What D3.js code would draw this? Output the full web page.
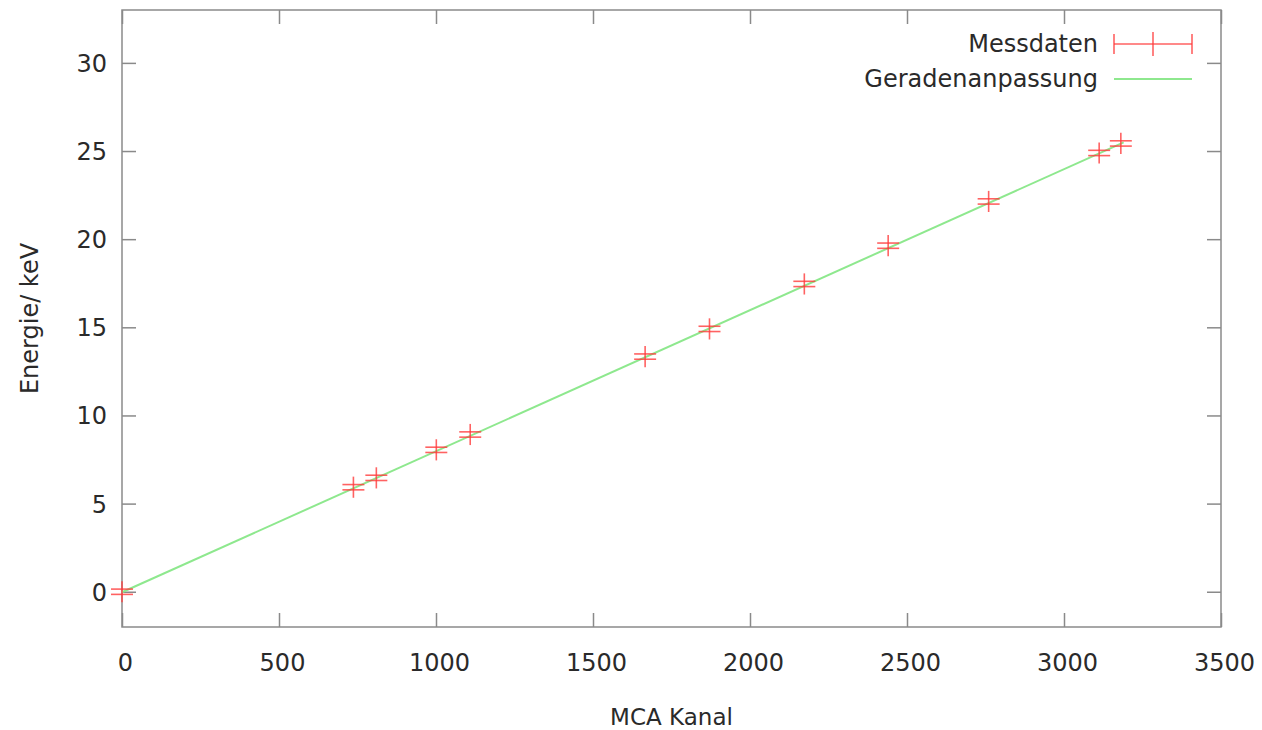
<!DOCTYPE html>
<html>
<head>
<meta charset="utf-8">
<script src="https://cdn.jsdelivr.net/npm/d3@7"></script>
<style>
  html, body { margin: 0; padding: 0; background: #fff; }
  svg { display: block; font-family: "DejaVu Sans", Verdana, sans-serif; }
</style>
</head>
<body>
<svg id="chart" width="1262" height="730"></svg>
<script>
// ---- data ----
const channels = [0, 737, 810, 1001, 1109, 1666, 1871, 2173, 2440, 2760, 3112, 3181];
const energies = [0, 5.93, 6.46, 8.05, 8.92, 13.34, 14.91, 17.46, 19.63, 22.14, 24.89, 25.43];
const xErr = [35, 35, 35, 35, 35, 35, 35, 35, 35, 35, 35, 35];
const yErrInner = [0.15, 0.15, 0.15, 0.15, 0.15, 0.15, 0.15, 0.15, 0.15, 0.15, 0.15, 0.15];
const yErrOuter = [0.6, 0.6, 0.6, 0.6, 0.6, 0.6, 0.6, 0.6, 0.6, 0.6, 0.6, 0.6];
const fitSlope = 0.008;
const fitIntercept = -0.03;
const fitRange = [0, 3190];
const xTicks = [0, 500, 1000, 1500, 2000, 2500, 3000, 3500];
const yTicks = [0, 5, 10, 15, 20, 25, 30];
const xLabel = "MCA Kanal";
const yLabel = "Energie/ keV";
const legendLabels = ["Messdaten", "Geradenanpassung"];

// ---- layout ----
const W = 1262, H = 730;
const m = { left: 122, right: 41, top: 10, bottom: 103 };
const svg = d3.select("#chart");
const x = d3.scaleLinear().domain([0, 3500]).range([m.left, W - m.right]);
const y = d3.scaleLinear().domain([-2, 33]).range([H - m.bottom, m.top]);
const frameColor = "#8a8a8a";
const textColor = "#2a2a2a";
const red = "#ff3b3b";
const green = "#8ee88e";
const tickLen = 14;

const gx = svg.append("g").attr("transform", `translate(0,${y.range()[0]})`)
  .call(d3.axisBottom(x).tickValues(xTicks).tickSize(-tickLen).tickPadding(27).tickFormat(d3.format("d")));
const gxTop = svg.append("g").attr("transform", `translate(0,${y.range()[1]})`)
  .call(d3.axisTop(x).tickValues(xTicks).tickSize(-tickLen).tickFormat(""));
const gy = svg.append("g").attr("transform", `translate(${x.range()[0]},0)`)
  .call(d3.axisLeft(y).tickValues(yTicks).tickSize(-tickLen).tickPadding(15).tickFormat(d3.format("d")));
const gyR = svg.append("g").attr("transform", `translate(${x.range()[1]},0)`)
  .call(d3.axisRight(y).tickValues(yTicks).tickSize(-tickLen).tickFormat(""));
[gx, gxTop, gy, gyR].forEach(g => {
  g.select(".domain").remove();
  g.selectAll(".tick line").attr("stroke", frameColor).attr("stroke-width", 1.5);
  g.selectAll(".tick text").attr("fill", textColor).attr("font-size", 24)
   .attr("font-family", "DejaVu Sans, Verdana, sans-serif");
});
gy.selectAll(".tick text").attr("dy", "0.35em");
gx.selectAll(".tick text").attr("dx", 3);

svg.append("rect")
  .attr("x", x.range()[0]).attr("y", y.range()[1])
  .attr("width", x.range()[1] - x.range()[0]).attr("height", y.range()[0] - y.range()[1])
  .attr("fill", "none").attr("stroke", frameColor).attr("stroke-width", 1.5);

const line = d3.line().x(d => x(d)).y(d => y(fitSlope * d + fitIntercept));
svg.append("path").datum(fitRange).attr("d", line)
  .attr("fill", "none").attr("stroke", green).attr("stroke-width", 2);

const pts = channels.map((c, i) => ({ c, e: energies[i], dx: xErr[i], di: yErrInner[i], dout: yErrOuter[i] }));
const g = svg.append("g").attr("stroke", red).attr("stroke-width", 1.6).attr("stroke-opacity", 0.8);
pts.forEach(p => {
  g.append("line").attr("x1", x(p.c)).attr("x2", x(p.c)).attr("y1", y(p.e - p.dout)).attr("y2", y(p.e + p.dout));
  [p.e - p.di, p.e + p.di].forEach(v => {
    g.append("line").attr("x1", x(p.c - p.dx)).attr("x2", x(p.c + p.dx)).attr("y1", y(v)).attr("y2", y(v));
  });
});

svg.append("text").attr("x", (x.range()[0] + x.range()[1]) / 2).attr("y", 717)
  .attr("dy", "0.35em")
  .attr("text-anchor", "middle").attr("font-size", 23).attr("fill", textColor).text(xLabel);
svg.append("text").attr("transform", `translate(38,${(y.range()[0] + y.range()[1]) / 2}) rotate(-90)`)
  .attr("text-anchor", "middle").attr("font-size", 24).attr("fill", textColor).text(yLabel);

const lg = svg.append("g");
const lx1 = 1114, lx2 = 1192, ly = [44, 79];
lg.append("text").attr("x", 1098).attr("y", ly[0]).attr("dy", "0.35em").attr("text-anchor", "end")
  .attr("font-size", 24).attr("fill", textColor).text(legendLabels[0]);
lg.append("text").attr("x", 1098).attr("y", ly[1]).attr("dy", "0.35em").attr("text-anchor", "end")
  .attr("font-size", 24).attr("fill", textColor).text(legendLabels[1]);
const lr = lg.append("g").attr("stroke", red).attr("stroke-width", 1.6).attr("stroke-opacity", 0.8);
lr.append("line").attr("x1", lx1).attr("x2", lx2).attr("y1", ly[0]).attr("y2", ly[0]);
[lx1, lx2].forEach(v => lr.append("line").attr("x1", v).attr("x2", v).attr("y1", ly[0] - 10).attr("y2", ly[0] + 10));
lr.append("line").attr("x1", (lx1 + lx2) / 2).attr("x2", (lx1 + lx2) / 2).attr("y1", ly[0] - 12).attr("y2", ly[0] + 12);
lg.append("line").attr("x1", lx1).attr("x2", lx2).attr("y1", ly[1]).attr("y2", ly[1])
  .attr("stroke", green).attr("stroke-width", 2);
</script>
</body>
</html>
